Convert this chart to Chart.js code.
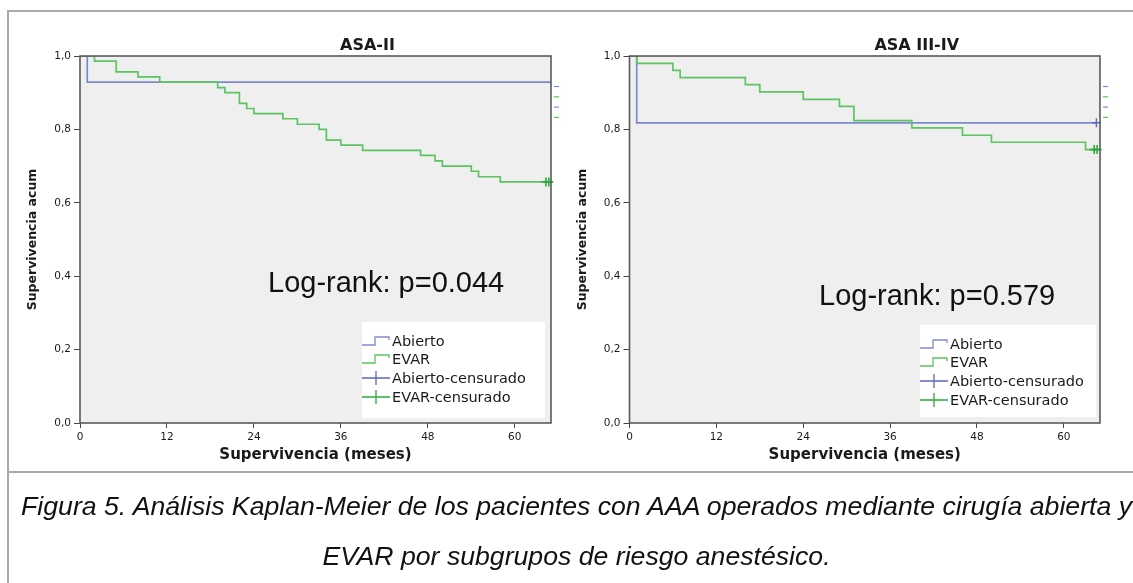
<!DOCTYPE html>
<html>
<head>
<meta charset="utf-8">
<script src="https://cdn.jsdelivr.net/npm/chart.js@4.4.0/dist/chart.umd.min.js"></script>
<style>
html,body{margin:0;padding:0;background:#fff;width:1133px;height:583px;overflow:hidden;position:relative;}
#frame{position:absolute;left:7px;top:10px;width:1200px;height:700px;border-left:2px solid #a9a9a9;border-top:2px solid #a9a9a9;}
#sep{position:absolute;left:7px;top:471px;width:1200px;height:2px;background:#a9a9a9;}
.wrap{position:absolute;top:0;height:472px;}
#w1{left:0;width:566px;}
#w2{left:566px;width:567px;}
.cap{position:absolute;left:0;width:1153px;text-align:center;font:italic 25.5px "Liberation Sans",Arial,sans-serif;color:#111;white-space:nowrap;line-height:30px;transform:scaleX(1.045);transform-origin:576px 50%;}
</style>
</head>
<body>
<div class="wrap" id="w1"><canvas id="c1"></canvas></div>
<div class="wrap" id="w2"><canvas id="c2"></canvas></div>
<div id="frame"></div>
<div id="sep"></div>
<div class="cap" style="top:491px;">Figura 5. Análisis Kaplan-Meier de los pacientes con AAA operados mediante cirugía abierta y</div>
<div class="cap" style="top:541px;">EVAR por subgrupos de riesgo anestésico.</div>
<script>
// ---- data ----
const xTicks = [0, 12, 24, 36, 48, 60];
const yTicks = [0, 0.2, 0.4, 0.6, 0.8, 1.0];
const seriesNames = ['Abierto', 'EVAR', 'Abierto-censurado', 'EVAR-censurado'];
const xAxisTitle = 'Supervivencia (meses)';
const yAxisTitle = 'Supervivencia acum';

// ASA-II
const asa2Title = 'ASA-II';
const asa2LogRank = 'Log-rank: p=0.044';
const asa2AbiertoTime = [0, 1, 65];
const asa2AbiertoSurv = [1, 0.929, 0.929];
const asa2EvarTime = [0, 2, 5, 8, 11, 19, 20, 22, 23, 24, 28, 30, 33, 34, 36, 39, 47, 49, 50, 54, 55, 58, 64.7];
const asa2EvarSurv = [1, 0.986, 0.957, 0.943, 0.929, 0.914, 0.900, 0.871, 0.857, 0.843, 0.829, 0.814, 0.800, 0.771, 0.757, 0.743, 0.729, 0.714, 0.700, 0.686, 0.671, 0.657, 0.657];
const asa2AbiertoCensTime = [];
const asa2AbiertoCensSurv = [];
const asa2EvarCensTime = [64.3, 64.7];
const asa2EvarCensSurv = [0.657, 0.657];

// ASA III-IV
const asa34Title = 'ASA III-IV';
const asa34LogRank = 'Log-rank: p=0.579';
const asa34AbiertoTime = [0, 1, 64.5];
const asa34AbiertoSurv = [1, 0.818, 0.818];
const asa34EvarTime = [0, 1, 6, 7, 16, 18, 24, 29, 31, 39, 46, 50, 63, 64.7];
const asa34EvarSurv = [1, 0.980, 0.961, 0.941, 0.922, 0.902, 0.882, 0.863, 0.824, 0.804, 0.784, 0.765, 0.745, 0.745];
const asa34AbiertoCensTime = [64.5];
const asa34AbiertoCensSurv = [0.818];
const asa34EvarCensTime = [64.2, 64.6];
const asa34EvarCensSurv = [0.745, 0.745];

// ---- styles ----
const BLUE = '#7d8acf';
const GREEN = '#5cc460';
const BLUE_D = '#5a67bf';
const GREEN_D = '#2eaa3d';
const TXT = '#1a1a1a';
Chart.defaults.font.family = '"DejaVu Sans", Verdana, sans-serif';
Chart.defaults.color = TXT;
Chart.defaults.animation = false;

const pts = (xs, ys) => xs.map((x, i) => ({x: x, y: ys[i]}));

const kmDecor = {
  id: 'kmDecor',
  beforeDraw(chart, args, o) {
    const a = chart.chartArea, ctx = chart.ctx;
    ctx.save();
    ctx.fillStyle = '#efefef';
    ctx.fillRect(a.left, a.top, a.right - a.left, a.bottom - a.top);
    ctx.restore();
  },
  beforeDatasetsDraw(chart, args, o) {
    const a = chart.chartArea, ctx = chart.ctx;
    const L = o.legend;
    const ds = chart.data.datasets;
    ctx.save();
    // log-rank annotation
    ctx.font = '29px "Liberation Sans", Arial, sans-serif';
    ctx.fillStyle = '#111';
    ctx.textBaseline = 'alphabetic';
    ctx.textAlign = 'left';
    ctx.fillText(o.logrank, o.logX, o.logY);
    // legend box
    ctx.fillStyle = '#fff';
    ctx.fillRect(L.x, L.y, L.w, L.h);
    ctx.font = '14.5px "DejaVu Sans", Verdana, sans-serif';
    ctx.textBaseline = 'middle';
    seriesNames.forEach((name, i) => {
      const y = L.rows[i];
      ctx.strokeStyle = i < 2 ? ds[i].borderColor : ds[i].pointBorderColor;
      ctx.lineWidth = 1.3;
      ctx.beginPath();
      if (i < 2) {
        ctx.moveTo(L.x, y + 4); ctx.lineTo(L.x + 13, y + 4); ctx.lineTo(L.x + 13, y - 4);
        ctx.lineTo(L.x + 27, y - 4); ctx.lineTo(L.x + 27, y - 1);
      } else {
        ctx.moveTo(L.x, y); ctx.lineTo(L.x + 28, y);
        ctx.moveTo(L.x + 14, y - 7); ctx.lineTo(L.x + 14, y + 7);
      }
      ctx.stroke();
      ctx.fillStyle = TXT;
      ctx.fillText(name, L.textX, y + 1);
    });
    ctx.restore();
  },
  afterDraw(chart, args, o) {
    const a = chart.chartArea, ctx = chart.ctx;
    ctx.save();
    ctx.strokeStyle = '#5a5a5a';
    ctx.lineWidth = 1.6;
    ctx.strokeRect(a.left, a.top, a.right - a.left, a.bottom - a.top);
    // chart title
    ctx.font = 'bold 16px "DejaVu Sans", Verdana, sans-serif';
    ctx.fillStyle = TXT;
    ctx.textAlign = 'center';
    ctx.textBaseline = 'middle';
    ctx.fillText(o.title, (a.left + a.right) / 2 + 52, a.top - 10);
    // small key dashes beside plot
    [BLUE, GREEN, BLUE, GREEN].forEach((c, i) => {
      ctx.strokeStyle = c; ctx.lineWidth = 1.2;
      const y = a.top + 30.5 + i * 10.3;
      ctx.beginPath(); ctx.moveTo(a.right + 3, y); ctx.lineTo(a.right + 8, y); ctx.stroke();
    });
    ctx.restore();
  }
};

function makeChart(id, d, lay) {
  const datasets = [
    {label: seriesNames[0], data: pts(d.abT, d.abS), showLine: true, stepped: true, borderColor: BLUE, borderWidth: 1.7, pointRadius: 0, order: 2},
    {label: seriesNames[1], data: pts(d.evT, d.evS), showLine: true, stepped: true, borderColor: GREEN, borderWidth: 1.7, pointRadius: 0, order: 1},
    {label: seriesNames[2], data: pts(d.abCT, d.abCS), showLine: false, pointStyle: 'cross', pointRadius: 4.5, pointBorderWidth: 1.4, pointBorderColor: BLUE_D, borderColor: BLUE_D, clip: false, order: 0},
    {label: seriesNames[3], data: pts(d.evCT, d.evCS), showLine: false, pointStyle: 'cross', pointRadius: 4.5, pointBorderWidth: 1.6, pointBorderColor: GREEN_D, borderColor: GREEN_D, clip: false, order: 0}
  ];
  return new Chart(document.getElementById(id), {
    type: 'scatter',
    data: {datasets: datasets},
    plugins: [kmDecor],
    options: {
      responsive: true,
      maintainAspectRatio: false,
      events: [],
      layout: {padding: {left: lay.padL, right: lay.padR, top: 56, bottom: 8}},
      plugins: {
        legend: {display: false},
        tooltip: {enabled: false},
        title: {display: false},
        kmDecor: {title: d.title, logrank: d.logrank, logX: lay.logX, logY: lay.logY, legend: lay.legend}
      },
      scales: {
        x: {
          type: 'linear', min: 0, max: 65,
          afterBuildTicks: s => { s.ticks = xTicks.map(v => ({value: v})); },
          afterFit: s => { s.height = 41; },
          ticks: {font: {size: 10.5}, color: TXT, padding: 3, maxRotation: 0, autoSkip: false, callback: v => String(v)},
          grid: {drawOnChartArea: false, drawTicks: true, tickLength: 5, color: '#444', lineWidth: 1},
          border: {display: false},
          title: {display: true, text: xAxisTitle, font: {size: 15, weight: 'bold'}, color: TXT, padding: 0}
        },
        y: {
          type: 'linear', min: 0, max: 1,
          afterBuildTicks: s => { s.ticks = yTicks.map(v => ({value: v})); },
          afterFit: s => { s.width = lay.yW; },
          ticks: {font: {size: 10.5}, color: TXT, padding: 3, autoSkip: false, callback: v => v.toFixed(1).replace('.', ',')},
          grid: {drawOnChartArea: false, drawTicks: true, tickLength: 6, color: '#444', lineWidth: 1},
          border: {display: false},
          title: {display: true, text: yAxisTitle, font: {size: 12.5, weight: 'bold'}, color: TXT, padding: 0}
        }
      }
    }
  });
}

makeChart('c1', {
  title: asa2Title, logrank: asa2LogRank,
  abT: asa2AbiertoTime, abS: asa2AbiertoSurv, evT: asa2EvarTime, evS: asa2EvarSurv,
  abCT: asa2AbiertoCensTime, abCS: asa2AbiertoCensSurv, evCT: asa2EvarCensTime, evCS: asa2EvarCensSurv
}, {padL: 25, padR: 15, yW: 55, logX: 268, logY: 292,
    legend: {x: 362, y: 322, w: 183, h: 96, textX: 392, rows: [341, 359, 378, 397]}});

makeChart('c2', {
  title: asa34Title, logrank: asa34LogRank,
  abT: asa34AbiertoTime, abS: asa34AbiertoSurv, evT: asa34EvarTime, evS: asa34EvarSurv,
  abCT: asa34AbiertoCensTime, abCS: asa34AbiertoCensSurv, evCT: asa34EvarCensTime, evCS: asa34EvarCensSurv
}, {padL: 9.5, padR: 33, yW: 54, logX: 253, logY: 305,
    legend: {x: 354, y: 325, w: 176, h: 92, textX: 384, rows: [344, 362, 381, 400]}});
</script>
</body>
</html>
